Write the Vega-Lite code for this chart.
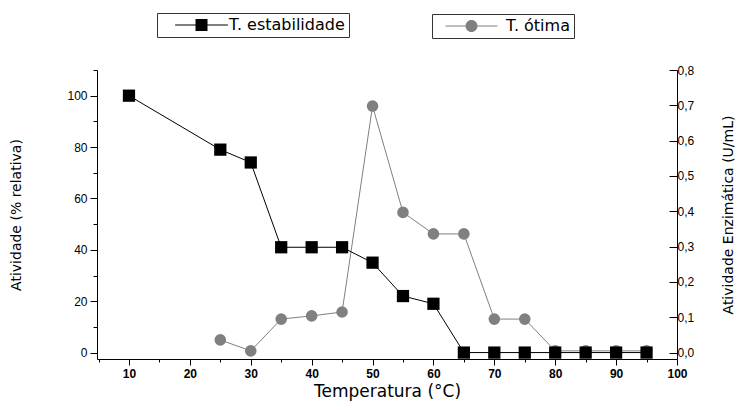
{
  "$schema": "https://vega.github.io/schema/vega-lite/v6.json",
  "width": 580,
  "height": 289,
  "autosize": {"type": "none"},
  "padding": {"left": 97, "top": 70, "right": 63, "bottom": 51},
  "background": "white",
  "config": {
    "view": {"stroke": null},
    "font": "Liberation Sans",
    "axis": {
      "grid": false,
      "domainColor": "black",
      "tickColor": "black",
      "labelColor": "black",
      "titleColor": "black",
      "labelFont": "Liberation Sans",
      "titleFont": "DejaVu Sans",
      "titleFontWeight": "normal",
      "labelFlush": false,
      "labelOverlap": false
    }
  },
  "datasets": {
    "estab": [
      {"temp": 10, "value": 100},
      {"temp": 25, "value": 79},
      {"temp": 30, "value": 74},
      {"temp": 35, "value": 41},
      {"temp": 40, "value": 41},
      {"temp": 45, "value": 41},
      {"temp": 50, "value": 35},
      {"temp": 55, "value": 22},
      {"temp": 60, "value": 19},
      {"temp": 65, "value": 0},
      {"temp": 70, "value": 0},
      {"temp": 75, "value": 0},
      {"temp": 80, "value": 0},
      {"temp": 85, "value": 0},
      {"temp": 90, "value": 0},
      {"temp": 95, "value": 0}
    ],
    "otima": [
      {"temp": 25, "value": 0.036},
      {"temp": 30, "value": 0.005},
      {"temp": 35, "value": 0.095},
      {"temp": 40, "value": 0.104},
      {"temp": 45, "value": 0.115},
      {"temp": 50, "value": 0.698},
      {"temp": 55, "value": 0.397},
      {"temp": 60, "value": 0.336},
      {"temp": 65, "value": 0.336},
      {"temp": 70, "value": 0.095},
      {"temp": 75, "value": 0.095},
      {"temp": 80, "value": 0.005},
      {"temp": 85, "value": 0.005},
      {"temp": 90, "value": 0.005},
      {"temp": 95, "value": 0.005}
    ]
  },
  "layer": [
    {
      "data": {"name": "otima"},
      "encoding": {
        "x": {
          "field": "temp", "type": "quantitative",
          "scale": {"domain": [4.75, 100], "nice": false, "zero": false},
          "axis": {
            "values": [5,10,15,20,25,30,35,40,45,50,55,60,65,70,75,80,85,90,95,100],
            "tickSize": {"condition": {"test": "datum.value % 10 === 0", "value": 6}, "value": 3},
            "labelExpr": "datum.value % 10 === 0 ? datum.label : ''",
            "labelFontSize": 12, "labelFontWeight": "bold", "labelPadding": 3,
            "title": "Temperatura (°C)", "titleFontSize": 17, "titlePadding": 4
          }
        },
        "y": {
          "field": "value", "type": "quantitative",
          "scale": {"domain": [-0.018, 0.8], "nice": false, "zero": false},
          "axis": {
            "orient": "right",
            "values": [0, 0.1, 0.2, 0.3, 0.4, 0.5, 0.6, 0.7, 0.8],
            "tickSize": -8, "labelPadding": 8,
            "labelExpr": "replace(format(datum.value, '.1f'), '.', ',')",
            "labelFontSize": 12,
            "title": "Atividade Enzimática (U/mL)", "titleFontSize": 14,
            "titleAngle": -90, "titlePadding": 42
          }
        }
      },
      "layer": [
        {"mark": {"type": "line", "color": "#808080", "strokeWidth": 1}},
        {
          "mark": {"type": "circle", "size": 135, "color": "#808080"},
          "encoding": {
            "opacity": {
              "datum": "T. ótima",
              "scale": {"range": [1]},
              "legend": {
                "title": null, "orient": "none", "legendX": 335, "legendY": -56,
                "padding": 4, "strokeColor": "#333", "fillColor": "white",
                "labelFontSize": 16, "labelColor": "black", "labelFont": "DejaVu Sans",
                "symbolType": "M-4.33,-0.085H-0.95V0.085H-4.33Z M0.95,-0.085H4.33V0.085H0.95Z M-1,0A1,1,0,1,1,1,0A1,1,0,1,1,-1,0Z",
                "symbolSize": 144, "symbolFillColor": "#808080", "symbolStrokeColor": "#808080",
                "symbolStrokeWidth": 0.5, "symbolOpacity": 1,
                "symbolOffset": 27.5, "labelOffset": 26.5
              }
            }
          }
        }
      ]
    },
    {
      "data": {"name": "estab"},
      "encoding": {
        "x": {
          "field": "temp", "type": "quantitative",
          "scale": {"domain": [4.75, 100], "nice": false, "zero": false},
          "axis": {
            "values": [5,10,15,20,25,30,35,40,45,50,55,60,65,70,75,80,85,90,95,100],
            "tickSize": {"condition": {"test": "datum.value % 10 === 0", "value": 6}, "value": 3},
            "labelExpr": "datum.value % 10 === 0 ? datum.label : ''",
            "labelFontSize": 12, "labelFontWeight": "bold", "labelPadding": 3,
            "title": "Temperatura (°C)", "titleFontSize": 17, "titlePadding": 4
          }
        },
        "y": {
          "field": "value", "type": "quantitative",
          "scale": {"domain": [-2.5, 110], "nice": false, "zero": false},
          "axis": {
            "orient": "left",
            "values": [0, 10, 20, 30, 40, 50, 60, 70, 80, 90, 100, 110],
            "tickSize": {"condition": {"test": "datum.value % 20 === 0", "value": 7}, "value": 4},
            "labelExpr": "datum.value % 20 === 0 ? datum.label : ''",
            "labelFontSize": 12, "labelPadding": 3,
            "title": "Atividade (% relativa)", "titleFontSize": 14, "titlePadding": 43
          }
        }
      },
      "layer": [
        {"mark": {"type": "line", "color": "black", "strokeWidth": 1}},
        {
          "mark": {"type": "square", "size": 150, "color": "black"},
          "encoding": {
            "opacity": {
              "datum": "T. estabilidade",
              "scale": {"range": [1]},
              "legend": {
                "title": null, "orient": "none", "legendX": 60, "legendY": -57,
                "padding": 4, "strokeColor": "#333", "fillColor": "white",
                "labelFontSize": 16, "labelColor": "black", "labelFont": "DejaVu Sans",
                "symbolType": "M-4.4,-0.085H-0.95V0.085H-4.4Z M0.95,-0.085H4.4V0.085H0.95Z M-1,-1H1V1H-1Z",
                "symbolSize": 144, "symbolFillColor": "black", "symbolStrokeColor": "black",
                "symbolStrokeWidth": 0.5, "symbolOpacity": 1,
                "symbolOffset": 32.5, "labelOffset": 19.5
              }
            }
          }
        }
      ]
    }
  ],
  "resolve": {"scale": {"y": "independent", "opacity": "independent"}, "legend": {"opacity": "independent"}}
}
